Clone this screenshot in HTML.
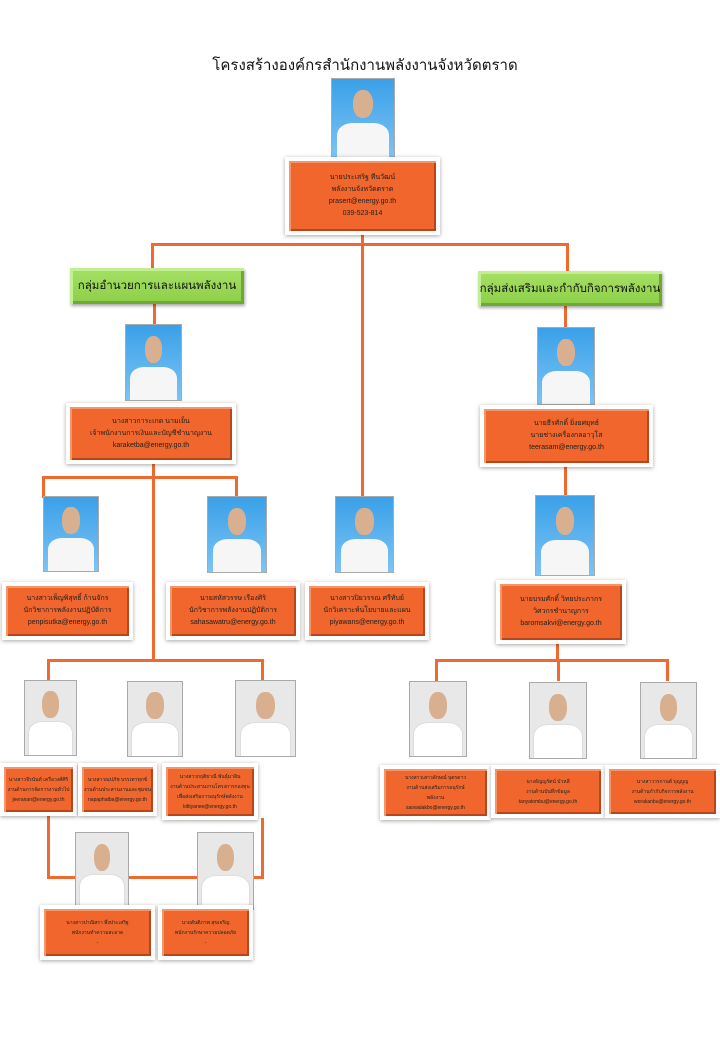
<!DOCTYPE html>
<html><head><meta charset="utf-8"><style>
body{margin:0;width:720px;height:1040px;background:#fff;position:relative;overflow:hidden;font-family:"Liberation Sans","Noto Sans CJK SC",sans-serif}
.a{position:absolute}
.l{position:absolute;background:#f06a30}
.fr{position:absolute;background:#fff;box-shadow:0 1px 4px rgba(0,0,0,.35)}
.bx{position:absolute;left:4px;top:4px;right:4px;bottom:4px;background:#f0662c;box-shadow:inset 2px 2px 0 #f5956a,inset -2px -2px 0 #b8461c;display:flex;flex-direction:column;justify-content:center;align-items:center;font-size:7px;line-height:12px;color:#222;text-align:center;white-space:nowrap;overflow:hidden}
.g{position:absolute;background:linear-gradient(#a6e064,#8ccf48);box-shadow:inset 3px 3px 0 #c4ee94,inset -3px -3px 0 #6ea930,1px 2px 3px rgba(0,0,0,.35);display:flex;align-items:center;justify-content:center;font-family:"Liberation Serif","Noto Serif CJK SC",serif;font-size:11.5px;color:#111;white-space:nowrap}
.p{position:absolute;background:linear-gradient(#3aa0e8,#7cc4f4);border:1px solid #aaa;overflow:hidden}
.p.w{background:#e8e8e8}
.p:before{content:"";position:absolute;left:34%;top:14%;width:32%;height:36%;border-radius:45%;background:#d8b090}
.p:after{content:"";position:absolute;left:8%;top:56%;width:84%;height:50%;border-radius:30% 30% 0 0;background:#f6f6f6}
.p.w:after{background:#fff;box-shadow:0 0 0 1px #ddd}
.s{font-size:5px!important;line-height:10px!important}
</style></head><body>
<div class="a" style="left:0;width:730px;top:53px;text-align:center;font-family:'Liberation Serif','Noto Serif CJK SC',serif;font-size:15px;color:#111">โครงสร้างองค์กรสำนักงานพลังงานจังหวัดตราด</div>

<div class="l" style="left:361px;top:228px;width:3px;height:270px"></div>
<div class="l" style="left:151px;top:243px;width:418px;height:3px"></div>
<div class="l" style="left:151px;top:243px;width:3px;height:26px"></div>
<div class="l" style="left:566px;top:243px;width:3px;height:28px"></div>
<div class="l" style="left:153px;top:302px;width:3px;height:24px"></div>
<div class="l" style="left:564px;top:304px;width:3px;height:24px"></div>
<div class="l" style="left:152px;top:462px;width:3px;height:200px"></div>
<div class="l" style="left:42px;top:476px;width:196px;height:3px"></div>
<div class="l" style="left:42px;top:476px;width:3px;height:22px"></div>
<div class="l" style="left:235px;top:476px;width:3px;height:22px"></div>
<div class="l" style="left:47px;top:659px;width:217px;height:3px"></div>
<div class="l" style="left:47px;top:659px;width:3px;height:22px"></div>
<div class="l" style="left:261px;top:659px;width:3px;height:22px"></div>
<div class="l" style="left:47px;top:815px;width:3px;height:64px"></div>
<div class="l" style="left:47px;top:876px;width:217px;height:3px"></div>
<div class="l" style="left:261px;top:818px;width:3px;height:61px"></div>
<div class="l" style="left:564px;top:465px;width:3px;height:32px"></div>
<div class="l" style="left:556px;top:642px;width:3px;height:20px"></div>
<div class="l" style="left:435px;top:659px;width:234px;height:3px"></div>
<div class="l" style="left:435px;top:659px;width:3px;height:22px"></div>
<div class="l" style="left:557px;top:659px;width:3px;height:22px"></div>
<div class="l" style="left:666px;top:659px;width:3px;height:22px"></div>

<div class="g" style="left:70px;top:268px;width:174px;height:36px">กลุ่มอำนวยการและแผนพลังงาน</div>
<div class="g" style="left:478px;top:271px;width:184px;height:35px">กลุ่มส่งเสริมและกำกับกิจการพลังงาน</div>

<div class="p" style="left:331px;top:78px;width:62px;height:79px"></div>
<div class="p" style="left:125px;top:324px;width:55px;height:75px"></div>
<div class="p" style="left:537px;top:327px;width:56px;height:76px"></div>
<div class="p" style="left:43px;top:496px;width:54px;height:74px"></div>
<div class="p" style="left:207px;top:496px;width:58px;height:75px"></div>
<div class="p" style="left:335px;top:496px;width:57px;height:75px"></div>
<div class="p" style="left:535px;top:495px;width:58px;height:79px"></div>
<div class="p w" style="left:24px;top:680px;width:51px;height:74px"></div>
<div class="p w" style="left:127px;top:681px;width:54px;height:74px"></div>
<div class="p w" style="left:235px;top:680px;width:59px;height:75px"></div>
<div class="p w" style="left:409px;top:681px;width:56px;height:74px"></div>
<div class="p w" style="left:529px;top:682px;width:56px;height:75px"></div>
<div class="p w" style="left:640px;top:682px;width:55px;height:75px"></div>
<div class="p w" style="left:75px;top:832px;width:52px;height:75px"></div>
<div class="p w" style="left:197px;top:832px;width:55px;height:76px"></div>

<div class="fr" style="left:285px;top:157px;width:155px;height:78px"><div class="bx"><div>นายประเสริฐ ทีนวัฒน์</div><div>พลังงานจังหวัดตราด</div><div>prasert@energy.go.th</div><div>039-523-814</div></div></div>
<div class="fr" style="left:66px;top:403px;width:170px;height:61px"><div class="bx"><div>นางสาวการะเกด นามเย็น</div><div>เจ้าพนักงานการเงินและบัญชีชำนาญงาน</div><div>karaketba@energy.go.th</div></div></div>
<div class="fr" style="left:480px;top:405px;width:173px;height:62px"><div class="bx"><div>นายธีรศักดิ์ ยิ่งยศยุทธ์</div><div>นายช่างเครื่องกลอาวุโส</div><div>teerasam@energy.go.th</div></div></div>
<div class="fr" style="left:2px;top:582px;width:131px;height:58px"><div class="bx"><div>นางสาวเพ็ญพิสุทธิ์ ก้านจักร</div><div>นักวิชาการพลังงานปฏิบัติการ</div><div>penpisutka@energy.go.th</div></div></div>
<div class="fr" style="left:166px;top:582px;width:134px;height:58px"><div class="bx"><div>นายสหัสวรรษ เรืองศิริ</div><div>นักวิชาการพลังงานปฏิบัติการ</div><div>sahasawatru@energy.go.th</div></div></div>
<div class="fr" style="left:305px;top:582px;width:124px;height:58px"><div class="bx"><div>นางสาวปิยวรรณ ศรีทับย์</div><div>นักวิเคราะห์นโยบายและแผน</div><div>piyawans@energy.go.th</div></div></div>
<div class="fr" style="left:496px;top:580px;width:130px;height:64px"><div class="bx"><div>นายบรมศักดิ์ วิทยประภากร</div><div>วิศวกรชำนาญการ</div><div>baromsakvi@energy.go.th</div></div></div>
<div class="fr" style="left:0px;top:763px;width:77px;height:53px"><div class="bx s"><div>นางสาวจีรนันท์ เครือวงศ์ศิริ</div><div>งานด้านการจัดการงานทั่วไป</div><div>jeeranan@energy.go.th</div></div></div>
<div class="fr" style="left:78px;top:763px;width:79px;height:53px"><div class="bx s"><div>นางสาวณปภัช บรรเทาทุกข์</div><div>งานด้านประสานงานและชุมชน</div><div>napaphatba@energy.go.th</div></div></div>
<div class="fr" style="left:162px;top:763px;width:96px;height:57px"><div class="bx s"><div>นางสาวกฤติยาณี พันธุ์มาลิน</div><div>งานด้านประสานงานโครงการกองทุน</div><div>เพื่อส่งเสริมการอนุรักษ์พลังงาน</div><div>kittiyanee@energy.go.th</div></div></div>
<div class="fr" style="left:380px;top:765px;width:111px;height:55px"><div class="bx s"><div>นางสาวเสาวลักษณ์ บุตรดาว</div><div>งานด้านส่งเสริมการอนุรักษ์</div><div>พลังงาน</div><div>saowalakbo@energy.go.th</div></div></div>
<div class="fr" style="left:491px;top:765px;width:114px;height:53px"><div class="bx s"><div>นางธัญญรัตน์ บัวหลี</div><div>งานด้านบันทึกข้อมูล</div><div>tanyatombu@energy.go.th</div></div></div>
<div class="fr" style="left:605px;top:765px;width:115px;height:53px"><div class="bx s"><div>นางสาววรกานต์ บุญบูญ</div><div>งานด้านกำกับกิจการพลังงาน</div><div>worakanbu@energy.go.th</div></div></div>
<div class="fr" style="left:40px;top:905px;width:115px;height:55px"><div class="bx s"><div>นางสาวปาณิสรา พึ่งประเสริฐ</div><div>พนักงานทำความสะอาด</div><div>-</div></div></div>
<div class="fr" style="left:158px;top:905px;width:95px;height:55px"><div class="bx s"><div>นายสันติภาพ สุขเจริญ</div><div>พนักงานรักษาความปลอดภัย</div><div>-</div></div></div>
</body></html>
